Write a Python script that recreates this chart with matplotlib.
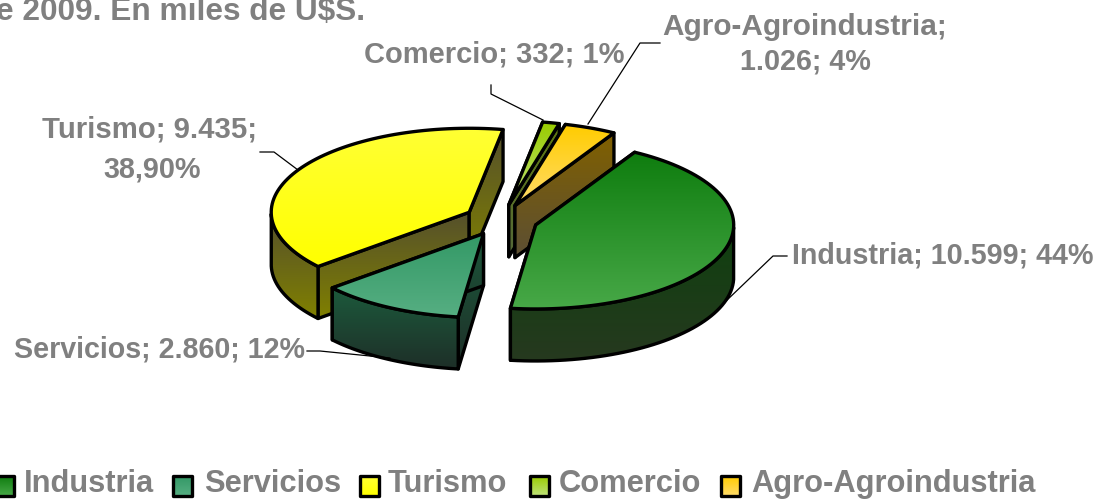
import numpy as np
import matplotlib
matplotlib.use("Agg")
import matplotlib.pyplot as plt
from matplotlib.colors import LinearSegmentedColormap
from matplotlib.patches import Polygon

plt.rcParams['font.family'] = ['Liberation Sans', 'DejaVu Sans']

# data
categories = ['Industria', 'Servicios', 'Turismo', 'Comercio', 'Agro-Agroindustria']
values = [10599, 2860, 9435, 332, 1026]

# gradient colours top -> bottom, for the top face and the walls
top_colors = [('#0f7d0f', '#47a847'), ('#339966', '#56ae82'), ('#ffff33', '#ffff00'),
              ('#99cc00', '#bfe27a'), ('#ffcc00', '#ffdc6a')]
wall_colors = [('#0f400f', '#26391f'), ('#1c5a3c', '#1e2f28'), ('#55502c', '#808000'),
               ('#5f7a10', '#55683a'), ('#806000', '#5c4f34')]

# the pie, in pixels of the picture
cx, cy = 501, 220
rx, ry = 198, 84
depth = 52
explode = 0.185
start_angle = 60

GRAY = '#808080'

fig = plt.figure(figsize=(10.99, 4.99), dpi=100)
ax = fig.add_axes([0, 0, 1, 1])
ax.axis('off')

z = [1]


def fill_gradient(xy, colors, lw=2.4):
    xy = np.array(xy)
    cmap = LinearSegmentedColormap.from_list('g', colors)
    grad = np.linspace(0, 1, 64).reshape(-1, 1)
    z[0] += 1
    im = ax.imshow(grad, cmap=cmap, aspect='auto', zorder=z[0],
                   extent=[xy[:, 0].min(), xy[:, 0].max(), xy[:, 1].max(), xy[:, 1].min()])
    clip = Polygon(xy, closed=True, transform=ax.transData)
    im.set_clip_path(clip)
    z[0] += 1
    ax.add_patch(Polygon(xy, closed=True, fill=False, edgecolor='black', lw=lw,
                         joinstyle='round', zorder=z[0]))


def point(ox, oy, deg, drop=0):
    rad = np.radians(deg)
    return ox + rx * np.cos(rad), oy - ry * np.sin(rad) + drop


def draw_slice(i, a0, a1):
    # a0 > a1, the pie runs clockwise
    mid = np.radians((a0 + a1) / 2)
    ox = cx + explode * rx * np.cos(mid)
    oy = cy - explode * ry * np.sin(mid)
    angles = np.linspace(a0, a1, 80)
    arc = [point(ox, oy, a) for a in angles]

    # radial walls first, the rim goes over them
    for a in (a0, a1):
        p = point(ox, oy, a)
        fill_gradient([(ox, oy), p, (p[0], p[1] + depth), (ox, oy + depth)], wall_colors[i])

    front = angles[np.sin(np.radians(angles)) <= 0]
    if len(front) > 1:
        upper = [point(ox, oy, a) for a in front]
        lower = [point(ox, oy, a, depth) for a in front[::-1]]
        fill_gradient(upper + lower, wall_colors[i])

    fill_gradient([(ox, oy)] + arc, top_colors[i])


sweeps = np.array(values) / sum(values) * 360
ends = start_angle - np.cumsum(sweeps)
starts = ends + sweeps

# back to front
for i in [3, 4, 2, 1, 0]:
    draw_slice(i, starts[i], ends[i])

# leader lines
leaders = [
    ([260, 274, 298], [152, 152, 170]),
    ([491, 491, 543], [85, 94, 120]),
    ([660, 640, 588], [43, 43, 124]),
    ([787, 773, 725], [256, 256, 302]),
    ([307, 320, 390], [351, 351, 358]),
]
for lx, ly in leaders:
    ax.plot(lx, ly, color='black', lw=0.9, zorder=z[0] + 1)

label_kw = dict(color=GRAY, fontweight='bold', va='center', zorder=z[0] + 2)
ax.text(1094, 255, 'Industria; 10.599; 44%', ha='right', fontsize=20.7, **label_kw)
ax.text(305, 350, 'Servicios; 2.860; 12%', ha='right', fontsize=20.6, **label_kw)
ax.text(149, 130, 'Turismo; 9.435;', ha='center', fontsize=21.2, **label_kw)
ax.text(152, 170, '38,90%', ha='center', fontsize=20.7, **label_kw)
ax.text(624, 54, 'Comercio; 332; 1%', ha='right', fontsize=21, **label_kw)
ax.text(805, 27, 'Agro-Agroindustria;', ha='center', fontsize=21.4, **label_kw)
ax.text(805, 61, '1.026; 4%', ha='center', fontsize=20.7, **label_kw)

# title, cut off by the top and left of the picture
ax.text(365, 20, 'e 2009. En miles de U$S.', ha='right', va='baseline', color=GRAY,
        fontweight='bold', fontsize=22.8)

# legend
swatch_x = [-5, 173, 360, 530, 721]
text_x = [24, 204, 388, 559, 751]
for i, name in enumerate(categories):
    fill_gradient([(swatch_x[i], 476), (swatch_x[i] + 19, 476), (swatch_x[i] + 19, 496), (swatch_x[i], 496)],
                  top_colors[i], lw=2.4)
    ax.text(text_x[i], 484, name, color=GRAY, fontweight='bold', fontsize=22.2, va='center', ha='left')

ax.set_xlim(0, 1099)
ax.set_ylim(499, 0)
fig.savefig('out.png', dpi=100)
